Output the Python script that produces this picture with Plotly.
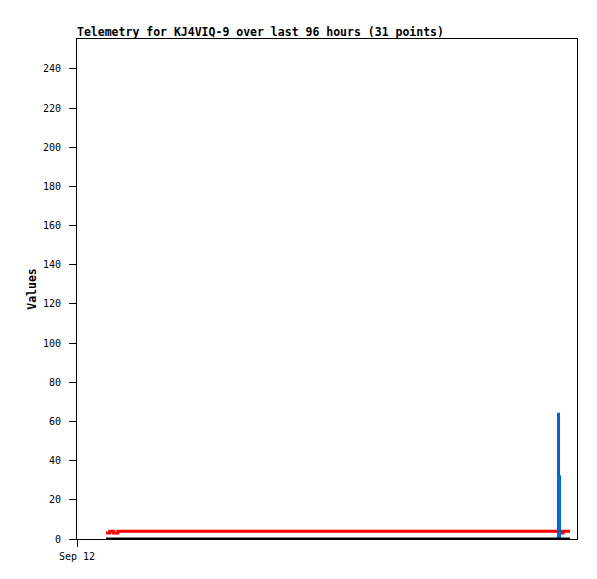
import plotly.graph_objects as go

# Sample times (Sep 12 00:00 + hours) and the three telemetry channels
TIMES = [
    "2025-09-12 05:34", "2025-09-12 06:18", "2025-09-12 07:00", "2025-09-12 07:52",
    "2025-09-12 12:10", "2025-09-12 18:40", "2025-09-13 01:15", "2025-09-13 08:30",
    "2025-09-13 15:05", "2025-09-13 21:50", "2025-09-14 04:20", "2025-09-14 11:00",
    "2025-09-14 17:45", "2025-09-15 00:30", "2025-09-15 07:10", "2025-09-15 13:55",
    "2025-09-15 20:00", "2025-09-15 20:05", "2025-09-15 20:10", "2025-09-15 20:15",
    "2025-09-15 20:21", "2025-09-15 20:27", "2025-09-15 20:33", "2025-09-15 20:45",
    "2025-09-15 20:50", "2025-09-15 20:56", "2025-09-15 21:19", "2025-09-15 21:45",
    "2025-09-15 22:10", "2025-09-15 22:25", "2025-09-15 22:40",
]
RED_VALUES = [
    3, 4, 3, 4, 4, 4, 4, 4,
    4, 4, 4, 4, 4, 4, 4, 4,
    4, 4, 4, 4, 4, 4, 4, 4,
    4, 3, 4, 4, 4, 4, 4,
]
BLUE_VALUES = [
    0, 0, 0, 0, 0, 0, 0, 0,
    0, 0, 0, 0, 0, 0, 0, 0,
    0, 0, 0, 0, 64, 64, 32, 0,
    0, 0, 0, 0, 0, 0, 0,
]
BLACK_VALUES = [0] * 31

TITLE = "Telemetry for KJ4VIQ-9 over last 96 hours (31 points)"
Y_TICKS = [0, 20, 40, 60, 80, 100, 120, 140, 160, 180, 200, 220, 240]

MONO = "DejaVu Sans Mono, Liberation Mono, monospace"

fig = go.Figure()
fig.add_trace(go.Scatter(
    x=TIMES, y=RED_VALUES, mode="lines", line_shape="hv",
    line=dict(color="#ff0000", width=3), showlegend=False,
))
fig.add_trace(go.Scatter(
    x=TIMES, y=BLUE_VALUES, mode="lines", line_shape="hv",
    line=dict(color="#0066cc", width=2), showlegend=False,
))
fig.add_trace(go.Scatter(
    x=TIMES, y=BLACK_VALUES, mode="lines", line_shape="hv",
    line=dict(color="#000000", width=3), showlegend=False,
))

# page body has an 8px margin, so the figure is a bit smaller than the window
fig.update_layout(
    width=589,
    height=571,
    margin=dict(l=69, r=20, t=31, b=40),
    paper_bgcolor="white",
    plot_bgcolor="white",
    font=dict(family=MONO, size=10, color="#000000"),
    title=dict(
        text=f"<b>{TITLE}</b>",
        font=dict(family=MONO, size=11.5, color="#000000"),
        x=69 / 589, xref="container", xanchor="left",
        y=1 - 24 / 571, yref="container", yanchor="middle",
    ),
    xaxis=dict(
        type="date",
        range=["2025-09-12 00:00", "2025-09-16 00:00"],
        tickvals=["2025-09-12 00:00"],
        ticktext=["Sep 12"],
        ticks="outside", ticklen=7, tickcolor="#000000",
        ticklabelstandoff=1,
        showline=True, linecolor="#000000", linewidth=1, mirror=True,
        showgrid=False, zeroline=False, automargin=False,
    ),
    yaxis=dict(
        range=[0, 255.3],
        tickvals=Y_TICKS,
        ticks="outside", ticklen=7, tickcolor="#000000",
        ticklabelstandoff=6,
        showline=True, linecolor="#000000", linewidth=1, mirror=True,
        showgrid=False, zeroline=False, automargin=False,
        title=dict(text="<b>Values</b>", font=dict(family=MONO, size=11.5), standoff=3),
    ),
)

fig.write_html("out.html")
